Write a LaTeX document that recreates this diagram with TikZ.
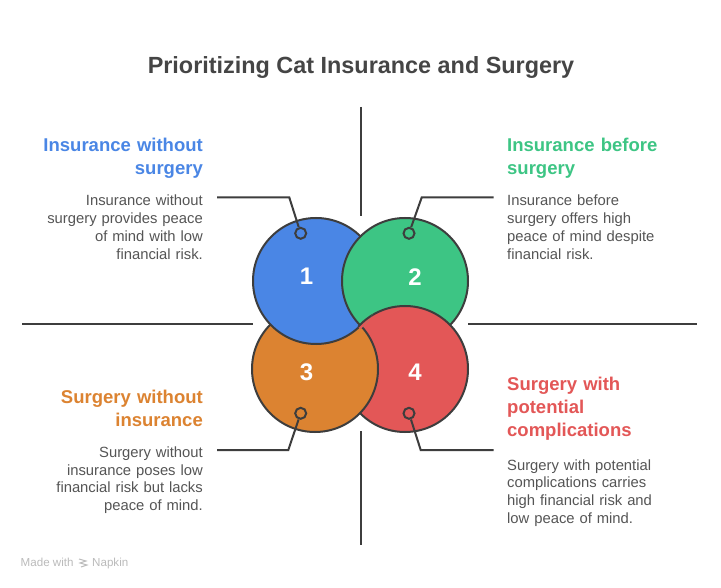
\documentclass[tikz,border=0pt]{standalone}
\usepackage{fontspec}
\setmainfont{Liberation Sans}
\usetikzlibrary{positioning}

\definecolor{cblue}{HTML}{4A86E5}
\definecolor{cgreen}{HTML}{3DC584}
\definecolor{corange}{HTML}{DC8331}
\definecolor{cred}{HTML}{E35757}
\definecolor{edge}{HTML}{3D3D3D}
\definecolor{txt}{HTML}{555555}
\definecolor{ttl}{HTML}{454545}
\definecolor{foot}{HTML}{BBBBBB}

\tikzset{
    bubble/.style={circle, draw=edge, line width=2pt, minimum size=126pt, inner sep=0pt},
    pin/.style={circle, draw=edge, line width=2pt, minimum size=11pt, inner sep=0pt},
    leader/.style={draw=edge, line width=2pt},
    axis/.style={draw=edge, line width=2pt},
    num/.style={text=white, font=\fontsize{24}{24}\selectfont\bfseries, inner sep=0pt},
    head/.style={font=\fontsize{18.5}{23}\selectfont\bfseries, inner sep=0pt, text width=190pt},
    body/.style={font=\fontsize{14.8}{17.7}\selectfont, text=txt, inner sep=0pt, text width=190pt}
}

\begin{document}
\begin{tikzpicture}[x=1pt, y=-1pt]
    \fill[white] (0,0) rectangle (721,588);
    \useasboundingbox (0,0) rectangle (721,588);

    \node[anchor=base, text=ttl, font=\fontsize{23.4}{28}\selectfont\bfseries] (title) at (361,74)
        {Prioritizing Cat Insurance and Surgery};

    % axes
    \coordinate (vt1) at (361,107);
    \coordinate (vt2) at (361,216);
    \coordinate (vb1) at (361,431);
    \coordinate (vb2) at (361,545);
    \coordinate (hl1) at (22,324);
    \coordinate (hl2) at (253,324);
    \coordinate (hr1) at (468,324);
    \coordinate (hr2) at (697,324);
    \draw[axis] (vt1) -- (vt2);
    \draw[axis] (vb1) -- (vb2);
    \draw[axis] (hl1) -- (hl2);
    \draw[axis] (hr1) -- (hr2);

    % circles
    \node[bubble, fill=cgreen] (c2) at (405,281) {};
    \node[bubble, fill=cred] (c4) at (405,369) {};
    \node[bubble, fill=corange] (c3) at (315,369) {};
    \node[bubble, fill=cblue] (c1) at (316,281) {};
    \begin{scope}
        \clip (c1.center) circle[radius=65.5pt];
        \fill[cgreen] (c2.center) circle[radius=63pt];
        \draw[line width=2pt, edge] (c2.center) circle[radius=63pt];
        \begin{scope}
            \clip (c2.center) circle[radius=65.5pt];
            \fill[cred] (c4.center) circle[radius=63pt];
            \draw[line width=2pt, edge] (c4.center) circle[radius=63pt];
        \end{scope}
    \end{scope}

    \node[num] (n1) at (306.5,276) {1};
    \node[num] (n2) at (415,277) {2};
    \node[num] (n3) at (306.5,372) {3};
    \node[num] (n4) at (415,372) {4};

    % pins and leaders
    \node[pin] (p1) at (300.7,233.3) {};
    \node[pin] (p2) at (409,233.3) {};
    \node[pin] (p3) at (300.7,413.3) {};
    \node[pin] (p4) at (409,413.3) {};
    \coordinate (l1) at (217,197.5);
    \coordinate (l2) at (493.5,197.5);
    \coordinate (l3) at (217,450);
    \coordinate (l4) at (493.5,450);
    \draw[leader] (l1) -- (289.3,197.5) -- (p1);
    \draw[leader] (l2) -- (421.7,197.5) -- (p2);
    \draw[leader] (l3) -- (288.3,450) -- (p3);
    \draw[leader] (l4) -- (420.7,450) -- (p4);

    % texts
    \node[head, text=cblue, align=right, anchor=base east] (h1) at (203,151.7)
        {Insurance without\\surgery};
    \node[body, align=right, anchor=base east] (b1) at (203,206)
        {Insurance without\\surgery provides peace\\of mind with low\\financial risk.};
    \node[head, text=cgreen, align=left, anchor=base west] (h2) at (507,151.7)
        {Insurance before\\surgery};
    \node[body, align=left, anchor=base west] (b2) at (507,206)
        {Insurance before\\surgery offers high\\peace of mind despite\\financial risk.};
    \node[head, text=corange, align=right, anchor=base east] (h3) at (203,403.3)
        {Surgery without\\insurance};
    \node[body, align=right, anchor=base east] (b3) at (203,457.3)
        {Surgery without\\insurance poses low\\financial risk but lacks\\peace of mind.};
    \node[head, text=cred, align=left, anchor=base west] (h4) at (507,390.7)
        {Surgery with\\potential\\complications};
    \node[body, align=left, anchor=base west] (b4) at (507,470)
        {Surgery with potential\\complications carries\\high financial risk and\\low peace of mind.};

    % footer
    \node[anchor=base west, text=foot, font=\fontsize{11.6}{14}\selectfont, inner sep=0pt] (made) at (20.5,566.7) {Made with};
    \node[anchor=base west, text=foot, font=\fontsize{11.6}{14}\selectfont, inner sep=0pt] (napkin) at (92,566.7) {Napkin};
    \draw[foot, line width=1pt] (79,559) -- (86,561) -- (80,563) -- (87,565) -- (81,567);
\end{tikzpicture}
\end{document}
